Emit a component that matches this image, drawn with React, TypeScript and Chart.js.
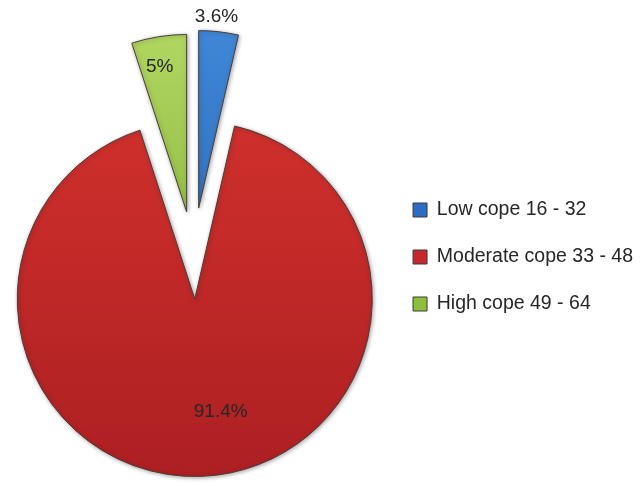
import React, { useEffect, useRef } from "react";
import { Chart, registerables } from "chart.js";

Chart.register(...registerables);

const categories = ["Low cope 16 - 32", "Moderate cope 33 - 48", "High cope 49 - 64"];
const values = [3.6, 91.4, 5];
const valueLabels = ["3.6%", "91.4%", "5%"];

const FONT = "'Liberation Sans', Arial, sans-serif";
const solidColors = ["#2b6cc4", "#c8282a", "#8cbf3a"];
const gradStops: [string, string][] = [
  ["#4088d8", "#1f56a3"],
  ["#d8352f", "#ad1f22"],
  ["#b2d862", "#6f9f26"],
];
// style: how far each slice is pulled out of the pie (px) and a direction tweak (rad)
const explode: [number, number][] = [
  [91, -0.07],
  [0, 0],
  [87.4, 0.064],
];
// label placement style: [angle tweak (rad), radius factor]
const labelPlacement: [number, number][] = [
  [-0.02, 1.08],
  [-0.183, 0.65],
  [-0.027, 0.83],
];

// move the centre of exploded slices outwards
const explodePlugin = {
  id: "explodeSlices",
  afterDatasetUpdate(chart: any, args: any) {
    const meta = chart.getDatasetMeta(args.index);
    meta.data.forEach((arc: any, i: number) => {
      const [d, tweak] = explode[i] || [0, 0];
      const dir = (arc.startAngle + arc.endAngle) / 2 + tweak;
      arc.x += Math.cos(dir) * d;
      arc.y += Math.sin(dir) * d;
    });
  },
};

const labelPlugin = {
  id: "sliceLabels",
  afterDatasetsDraw(chart: any) {
    const meta = chart.getDatasetMeta(0);
    const R = meta.controller.outerRadius;
    const ctx = chart.ctx;
    ctx.save();
    ctx.font = `19px ${FONT}`;
    ctx.fillStyle = "#262626";
    ctx.textAlign = "center";
    ctx.textBaseline = "middle";
    meta.data.forEach((arc: any, i: number) => {
      const mid = (arc.startAngle + arc.endAngle) / 2;
      const a = mid + labelPlacement[i][0];
      const r = R * labelPlacement[i][1];
      ctx.fillText(valueLabels[i], arc.x + Math.cos(a) * r, arc.y + Math.sin(a) * r);
    });
    ctx.restore();
  },
};

const shadowPlugin = {
  id: "sliceShadow",
  beforeDatasetsDraw(chart: any) {
    const ctx = chart.ctx;
    ctx.save();
    ctx.shadowColor = "rgba(0,0,0,0.35)";
    ctx.shadowBlur = 4;
    ctx.shadowOffsetX = 1;
    ctx.shadowOffsetY = 1;
  },
  afterDatasetsDraw(chart: any) {
    chart.ctx.restore();
  },
};

export default function App() {
  const ref = useRef<HTMLCanvasElement>(null);
  useEffect(() => {
    if (!ref.current) return;
    const chart = new Chart(ref.current, {
      type: "pie",
      data: {
        labels: categories,
        datasets: [
          {
            data: values,
            backgroundColor: (c: any) => {
              const i = c.dataIndex;
              const area = c.chart.chartArea;
              if (!area || i === undefined) return solidColors[i ?? 0];
              const g = c.chart.ctx.createLinearGradient(0, 20, 0, 480);
              g.addColorStop(0, gradStops[i][0]);
              g.addColorStop(1, gradStops[i][1]);
              return g;
            },
            borderColor: "#4a3a3a",
            borderWidth: 1,
            radius: 177.5,
            clip: false,
          } as any,
        ],
      },
      options: {
        responsive: false,
        animation: false,
        layout: { padding: { left: 4, top: 116, right: 0, bottom: 0 } },
        plugins: {
          tooltip: { enabled: false },
          legend: {
            position: "right",
            align: "start",
            maxWidth: 260.5,
            title: {
              display: true,
              text: "",
              font: { size: 10, lineHeight: 1 },
              padding: { top: 46.75, bottom: 0 },
            },
            labels: {
              boxWidth: 14,
              boxHeight: 14,
              padding: 27.5,
              color: "#262626",
              font: { family: FONT, size: 19.5 },
              generateLabels: () =>
                categories.map((t, i) => ({
                  text: t,
                  fillStyle: solidColors[i],
                  strokeStyle: "#3a3a3a",
                  fontColor: "#262626",
                  lineWidth: 1,
                  hidden: false,
                  index: i,
                })),
            },
          },
        },
      } as any,
      plugins: [explodePlugin, shadowPlugin, labelPlugin],
    });
    return () => chart.destroy();
  }, []);
  return (
    <div style={{ position: "fixed", left: 0, top: 0, width: 643, height: 482, background: "#fff" }}>
      <canvas ref={ref} width={643} height={482} style={{ width: 643, height: 482 }} />
    </div>
  );
}
